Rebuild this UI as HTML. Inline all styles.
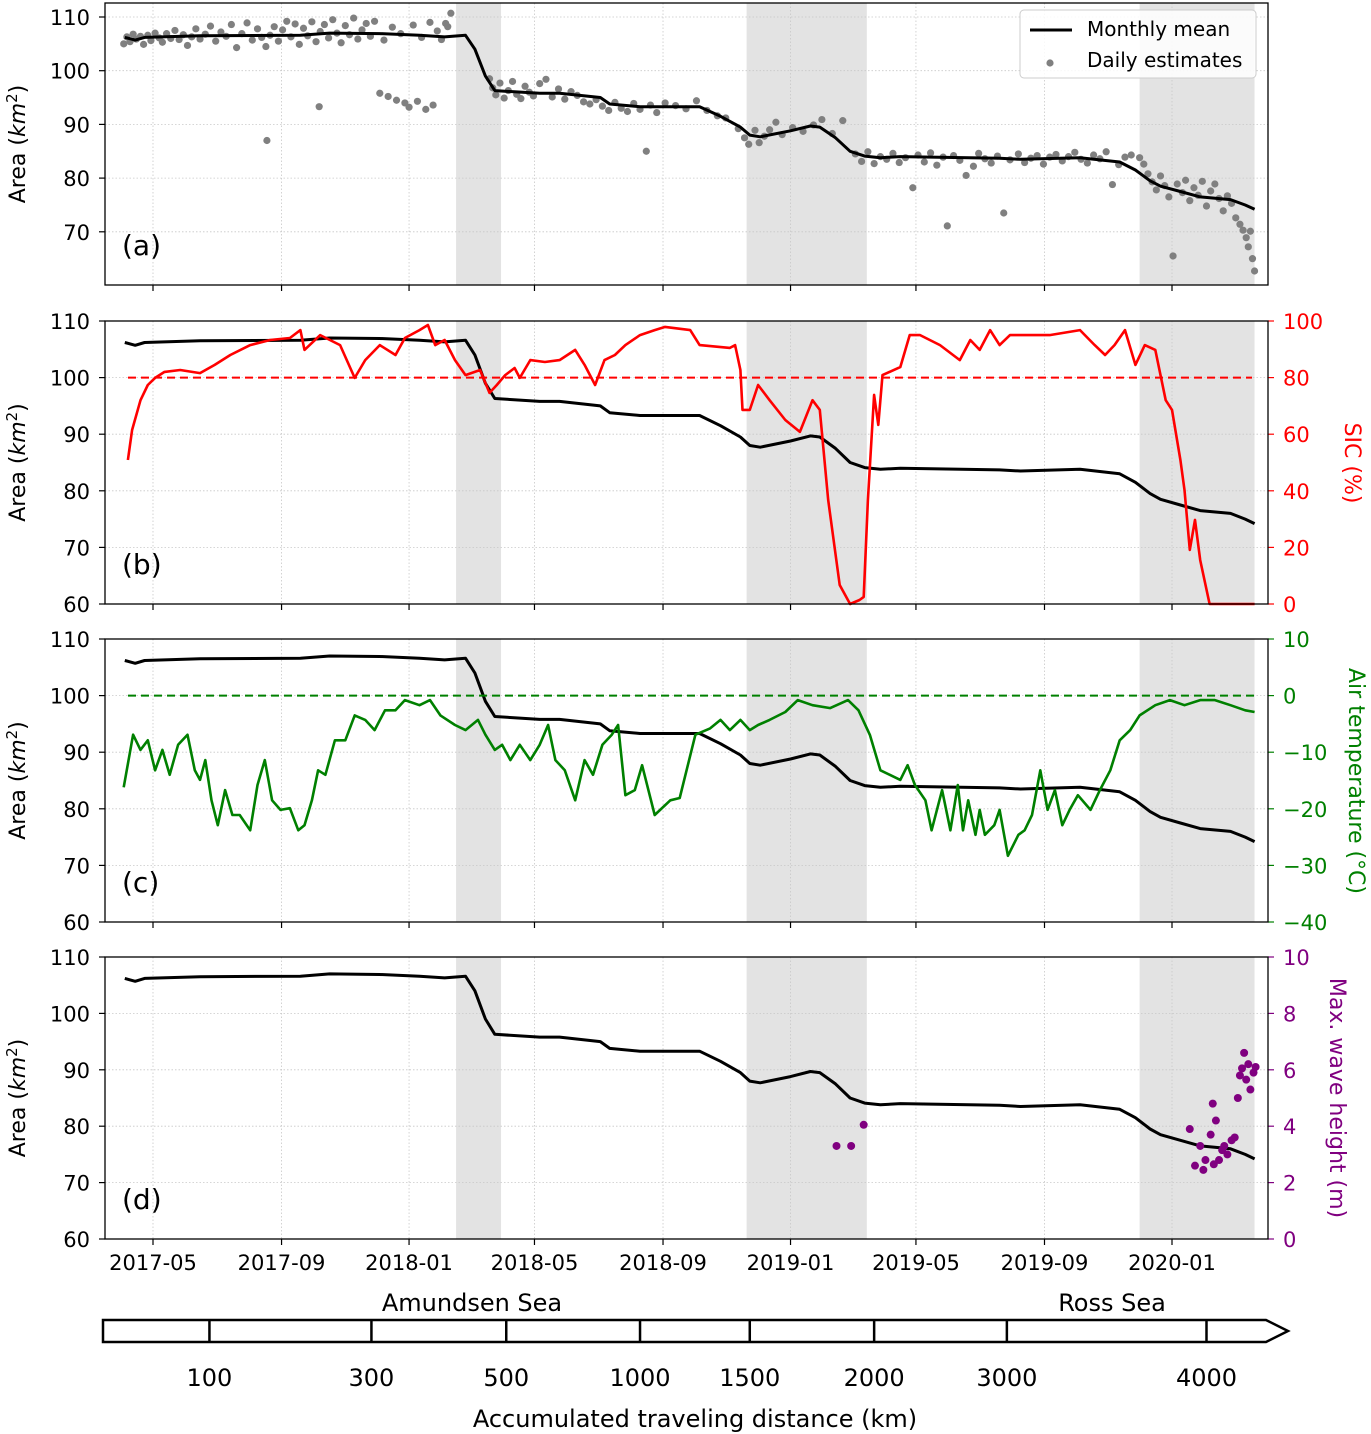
<!DOCTYPE html>
<html><head><meta charset="utf-8">
<style>
html,body{margin:0;padding:0;background:#fff;}
svg{display:block;font-family:"DejaVu Sans","Liberation Sans",sans-serif;}
</style></head>
<body>
<svg id="chart" xmlns="http://www.w3.org/2000/svg" width="1371" height="1434" viewBox="0 0 1371 1434"></svg>
<script>
// ---------- DATA ----------
const dateTickLabels = ["2017-05","2017-09","2018-01","2018-05","2018-09","2019-01","2019-05","2019-09","2020-01"];
const dateTickDays = [0,123,245,365,488,610,730,853,975]; // days since 2017-05-01
const shadeStart = [290,568,944];
const shadeEnd = [333,683,1054];

const meanDays = [-27,-17,-8,45,141,169,217,255,279,299,308,318,327,370,389,428,437,466,523,543,562,571,581,610,629,638,653,667,681,696,715,810,830,887,925,940,954,964,983,1002,1031,1045,1054];
const meanArea = [106.2,105.7,106.2,106.5,106.6,107,106.9,106.6,106.3,106.6,104,99,96.3,95.8,95.8,95,93.8,93.3,93.3,91.5,89.5,88,87.7,88.8,89.7,89.5,87.5,85,84.1,83.8,84,83.7,83.5,83.8,83,81.5,79.5,78.5,77.5,76.5,76,75,74.2];

const dotDays = [-28,-25,-22,-19,-16,-12,-9,-5,-2,2,6,9,13,17,21,25,29,33,37,41,45,50,55,60,65,70,75,80,85,90,95,100,104,108,109,112,116,120,124,128,132,136,140,144,148,152,156,159,160,164,168,172,176,180,184,188,192,196,200,204,208,212,217,221,225,229,233,237,241,245,249,253,257,261,265,268,272,276,280,282,285,
322,325,328,332,336,340,344,348,352,356,360,364,370,376,382,388,394,400,406,412,418,424,430,436,442,448,454,460,466,472,476,482,490,500,510,520,530,540,548,
560,566,570,576,580,585,590,596,602,612,622,632,640,650,660,
672,678,684,690,696,702,708,714,720,727,732,738,744,750,756,760,766,772,778,785,790,796,802,808,814,820,828,834,840,846,852,858,864,870,876,882,888,894,900,906,912,918,924,930,936,
944,948,952,956,960,964,968,972,976,980,985,988,992,996,1000,1004,1008,1012,1016,1020,1024,1028,1032,1036,1040,1043,1046,1048,1050,1052,1054];
const dotArea = [105,106.3,105.4,106.8,105.9,106.4,104.9,106.6,105.6,107.0,106.1,105.3,106.9,106.0,107.5,105.8,106.7,104.7,106.3,107.8,105.9,106.8,108.3,105.5,107.2,106.4,108.6,104.3,106.9,108.9,105.7,107.8,106.2,104.5,87,106.6,108.2,105.5,107.6,109.2,106.3,108.7,104.9,107.9,106.5,109.1,105.4,93.3,107.3,108.6,106.1,109.5,107.0,105.2,108.4,106.7,109.8,105.9,107.6,108.8,106.4,109.2,95.8,105.7,95.2,108.1,94.5,106.9,94.0,93.2,108.5,94.3,106.2,92.8,109.0,93.6,107.4,105.8,108.8,108.2,110.7,
98.5,96.8,95.5,97.7,94.9,96.3,98.0,95.6,94.8,97.1,96.0,95.3,97.6,98.4,95.1,96.6,94.7,96.1,95.4,94.2,93.8,94.6,93.4,92.6,94.1,93.0,92.4,93.9,92.8,85,93.6,92.2,94.0,93.5,92.9,94.4,92.6,91.6,91.2,
89.2,87.5,86.3,88.9,86.6,87.8,89.0,90.4,88.1,89.4,88.7,89.9,90.9,88.3,90.7,
84.5,83.1,84.9,82.7,84.0,83.5,84.6,82.9,83.8,78.2,84.3,83.0,84.7,82.4,83.9,71.1,84.2,83.3,80.5,82.2,84.6,83.6,82.8,84.1,73.5,83.4,84.5,82.9,83.7,84.2,82.6,83.9,84.4,83.2,84.0,84.8,83.5,82.8,84.3,83.6,84.9,78.8,82.5,83.9,84.3,
83.8,82.6,80.8,79.3,77.8,80.4,78.6,76.5,65.5,78.9,77.3,79.6,75.8,78.2,76.8,79.4,74.8,77.6,78.9,76.2,73.9,76.7,75.3,72.6,71.4,70.3,68.9,67.2,70.1,65.0,62.7];

const sicDays = [-24,-20,-12,-5,2,11,26,45,59,74,93,112,131,141,145,160,179,193,203,217,232,241,255,263,270,279,289,299,313,322,329,337,346,351,361,375,389,404,413,423,432,442,452,466,480,490,514,523,552,557,562,564,571,579,590,605,619,631,638,646,657,667,676,680,684,690,694,698,715,724,734,753,772,782,791,801,810,820,839,858,887,901,911,920,930,940,949,959,969,975,983,987,992,997,1002,1011,1054];
const sicValues = [50.9,61.5,72,77.4,79.9,82,82.7,81.6,84.5,88,91.5,93.3,94,96.8,89.8,95,91.5,79.9,86.2,91.5,88,94,96.8,98.6,91.5,93.3,86.2,80.9,82.7,74.6,77.4,80.9,83.4,79.9,86.2,85.5,86.2,89.8,84.5,77.4,86.2,88,91.5,95,96.8,97.9,96.8,91.5,90.5,91.5,82.7,68.6,68.6,77.4,72,65,60.8,72,68.6,36.7,6.7,0,1.4,2.5,36.7,73.9,63.3,80.9,83.7,95,95,91.5,86.2,93.3,89.8,96.8,91.5,95,95,95,96.8,91.5,88,91.5,96.8,84.5,91.5,89.8,72,68.6,50.9,40.3,19.1,29.7,15.5,0,0];

const tempDays = [-28,-19,-12,-5,2,9,16,24,33,40,45,50,56,62,69,76,83,93,100,107,114,122,131,139,145,152,158,165,174,184,193,203,212,222,232,241,255,265,275,289,299,311,318,327,334,342,351,361,370,378,385,394,404,413,421,430,439,445,452,461,468,480,495,504,519,533,543,552,562,571,579,590,605,617,631,648,665,675,686,696,705,715,722,729,739,745,755,763,770,775,780,787,791,796,805,810,818,828,834,841,849,856,863,870,877,885,897,906,916,925,935,944,959,973,987,1002,1016,1031,1045,1054];
const tempValues = [-16.2,-6.9,-9.6,-7.9,-13.2,-9.6,-14.0,-8.7,-6.9,-13.2,-14.9,-11.4,-18.5,-22.9,-16.7,-21.1,-21.1,-23.8,-15.8,-11.4,-18.5,-20.2,-19.9,-23.8,-22.9,-18.5,-13.2,-14.0,-7.9,-7.9,-3.5,-4.3,-6.1,-2.6,-2.6,-0.8,-1.7,-0.8,-3.5,-5.2,-6.1,-4.3,-6.9,-9.6,-8.7,-11.4,-8.7,-11.4,-8.7,-5.2,-11.4,-13.2,-18.5,-11.4,-14.0,-8.7,-6.9,-5.2,-17.6,-16.7,-12.3,-21.1,-18.5,-18.1,-6.9,-5.8,-4.3,-6.1,-4.3,-6.1,-5.2,-4.3,-2.9,-0.8,-1.7,-2.2,-0.8,-2.6,-7.0,-13.2,-14.0,-14.9,-12.3,-15.8,-18.5,-23.8,-16.7,-23.8,-15.8,-23.8,-18.5,-24.6,-20.2,-24.6,-22.9,-20.2,-28.3,-24.6,-23.8,-21.1,-13.2,-20.2,-16.7,-22.9,-20.2,-17.6,-20.2,-16.7,-13.2,-7.9,-6.1,-3.5,-1.7,-0.8,-1.7,-0.8,-0.8,-1.7,-2.6,-2.9];

const waveDays = [654,668,680,992,997,1002,1005,1007,1012,1014,1015,1017,1020,1023,1025,1028,1032,1035,1038,1040,1042,1044,1046,1048,1050,1053,1055];
const waveHeights = [3.3,3.3,4.05,3.9,2.6,3.3,2.45,2.8,3.7,4.8,2.65,4.2,2.8,3.15,3.3,3.0,3.5,3.6,5.0,5.8,6.05,6.6,5.65,6.2,5.3,5.9,6.1];

const distTicks = ["100","300","500","1000","1500","2000","3000","4000"];
const distTickDays = [54,209,338,466,571,690,817,1008];

// ---------- HELPERS ----------
const NS="http://www.w3.org/2000/svg";
const svg=document.getElementById('chart');
function mk(tag,attrs,parent){const e=document.createElementNS(NS,tag);for(const k in attrs)e.setAttribute(k,attrs[k]);(parent||svg).appendChild(e);return e;}
function txt(s,attrs,parent){const e=mk('text',attrs,parent);e.textContent=s;return e;}
const X0=105,X1=1268;
function xd(d){return 153+d*1.04513;}

const panels=[
 {id:'a',top:3,bot:285,y110:17,k:5.37,yt:[70,80,90,100,110]},
 {id:'b',top:321,bot:604,y110:321,k:5.66,yt:[60,70,80,90,100,110]},
 {id:'c',top:639,bot:922,y110:639,k:5.66,yt:[60,70,80,90,100,110]},
 {id:'d',top:957,bot:1239,y110:957,k:5.64,yt:[60,70,80,90,100,110]}
];
function yA(p,v){return p.y110+(110-v)*p.k;}
function linePath(days,vals,fx,fy){return days.map((d,i)=>(i?'L':'M')+fx(d).toFixed(1)+','+fy(vals[i]).toFixed(1)).join(' ');}

panels.forEach((p,pi)=>{
  const g=mk('g',{});
  
  
  shadeStart.forEach((s,i)=>{
    const r=mk('rect',{x:xd(s),y:p.top,width:xd(shadeEnd[i])-xd(s),height:p.bot-p.top,fill:'#e3e3e3'},g);
    
    
  });
  dateTickDays.forEach(d=>{mk('line',{x1:xd(d),x2:xd(d),y1:p.top,y2:p.bot,stroke:'#c8c8c8','stroke-width':0.8,'stroke-dasharray':'1.5,2'},g);
    mk('line',{x1:xd(d),x2:xd(d),y1:p.bot,y2:p.bot+6,stroke:'#000','stroke-width':1.2},g);});
  p.yt.forEach(v=>{const y=yA(p,v);
    mk('line',{x1:X0,x2:X1,y1:y,y2:y,stroke:'#c8c8c8','stroke-width':0.8,'stroke-dasharray':'1.5,2'},g);
    mk('line',{x1:X0-6,x2:X0,y1:y,y2:y,stroke:'#000','stroke-width':1.2},g);
    const t=txt(String(v),{x:90,y:y+8,'text-anchor':'end','font-size':21},g);
    
    
  });
  const yl=txt('',{transform:`translate(25,${(p.top+p.bot)/2}) rotate(-90)`,'text-anchor':'middle','font-size':22},g);
  yl.innerHTML='Area (<tspan font-style="italic">km</tspan><tspan dy="-8" font-size="15">2</tspan><tspan dy="8">)</tspan>';
  
  
  const pl=txt('('+p.id+')',{x:122,y:p.bot-30,'font-size':28},g);
  
  
  p.g=g;
});

const pa=panels[0];
dotDays.forEach((d,i)=>{
  const c=mk('circle',{cx:xd(d),cy:yA(pa,dotArea[i]),r:3.6,fill:'#808080'},pa.g);
  
  
});
panels.forEach(p=>{
  const l=mk('path',{d:linePath(meanDays,meanArea,xd,v=>yA(p,v)),fill:'none',stroke:'#000','stroke-width':3,'stroke-linejoin':'round'},p.g);
  
  
});

const pb=panels[1];
function ySic(v){return 604-v*2.83;}
mk('line',{x1:128,x2:1252,y1:ySic(80),y2:ySic(80),stroke:'#ff0000','stroke-width':2,'stroke-dasharray':'8,5'},pb.g);
const sl=mk('path',{d:linePath(sicDays,sicValues,xd,ySic),fill:'none',stroke:'#ff0000','stroke-width':2.6,'stroke-linejoin':'round'},pb.g);


[0,20,40,60,80,100].forEach(v=>{const y=ySic(v);mk('line',{x1:X1,x2:X1+6,y1:y,y2:y,stroke:'#ff0000','stroke-width':1.2},pb.g);
  txt(String(v),{x:1283,y:y+8,'font-size':21,fill:'#ff0000'},pb.g);});
const sicT=txt('SIC (%)',{transform:'translate(1345,463) rotate(90)','text-anchor':'middle','font-size':22,fill:'#ff0000'},pb.g);



const pc=panels[2];
function yT(v){return 695.6-v*5.66;}
mk('line',{x1:128,x2:1256,y1:yT(0),y2:yT(0),stroke:'#008000','stroke-width':2,'stroke-dasharray':'8,5'},pc.g);
const tl=mk('path',{d:linePath(tempDays,tempValues,xd,yT),fill:'none',stroke:'#008000','stroke-width':2.6,'stroke-linejoin':'round'},pc.g);


[-40,-30,-20,-10,0,10].forEach(v=>{const y=yT(v);mk('line',{x1:X1,x2:X1+6,y1:y,y2:y,stroke:'#008000','stroke-width':1.2},pc.g);
  txt(v<0?'\u2212'+(-v):String(v),{x:1283,y:y+8,'font-size':21,fill:'#008000'},pc.g);});
const tT=txt('Air temperature (°C)',{transform:'translate(1349,781) rotate(90)','text-anchor':'middle','font-size':22,fill:'#008000'},pc.g);



const pd=panels[3];
function yW(v){return 1239-v*28.2;}
waveDays.forEach((d,i)=>{
  const c=mk('circle',{cx:xd(d),cy:yW(waveHeights[i]),r:4,fill:'#800080'},pd.g);
  
  
});
[0,2,4,6,8,10].forEach(v=>{const y=yW(v);mk('line',{x1:X1,x2:X1+6,y1:y,y2:y,stroke:'#800080','stroke-width':1.2},pd.g);
  txt(String(v),{x:1283,y:y+8,'font-size':21,fill:'#800080'},pd.g);});
const wT=txt('Max. wave height (m)',{transform:'translate(1330,1098) rotate(90)','text-anchor':'middle','font-size':22,fill:'#800080'},pd.g);


dateTickDays.forEach((d,i)=>{
  const t=txt(dateTickLabels[i],{x:xd(d),y:1270,'text-anchor':'middle','font-size':21},pd.g);
  
  
});

panels.forEach(p=>{mk('rect',{x:X0,y:p.top,width:X1-X0,height:p.bot-p.top,fill:'none',stroke:'#000','stroke-width':1.3},p.g);});

const lg=mk('g',{});


mk('rect',{x:1020,y:10,width:236,height:68,rx:4,fill:'#fff','fill-opacity':0.85,stroke:'#ccc','stroke-width':1},lg);
mk('line',{x1:1030,x2:1072,y1:30,y2:30,stroke:'#000','stroke-width':3},lg);
txt('Monthly mean',{x:1087,y:36,'font-size':20},lg);
mk('circle',{cx:1050,cy:63,r:3.6,fill:'#808080'},lg);
txt('Daily estimates',{x:1087,y:67,'font-size':20},lg);

const da=mk('g',{});


mk('polygon',{points:'103,1320 1266,1320 1288,1331 1266,1342 103,1342',fill:'#fff',stroke:'#000','stroke-width':2.5},da);
distTickDays.forEach((d,i)=>{const x=xd(d);
  mk('line',{x1:x,x2:x,y1:1320,y2:1342,stroke:'#000','stroke-width':2.5},da);
  const t=txt(distTicks[i],{x:x,y:1386,'text-anchor':'middle','font-size':24},da);
  
  
});
txt('Amundsen Sea',{x:472,y:1311,'text-anchor':'middle','font-size':24},da);
txt('Ross Sea',{x:1112,y:1311,'text-anchor':'middle','font-size':24},da);
const dt=txt('Accumulated traveling distance (km)',{x:695,y:1427,'text-anchor':'middle','font-size':24},da);


</script>
</body></html>
